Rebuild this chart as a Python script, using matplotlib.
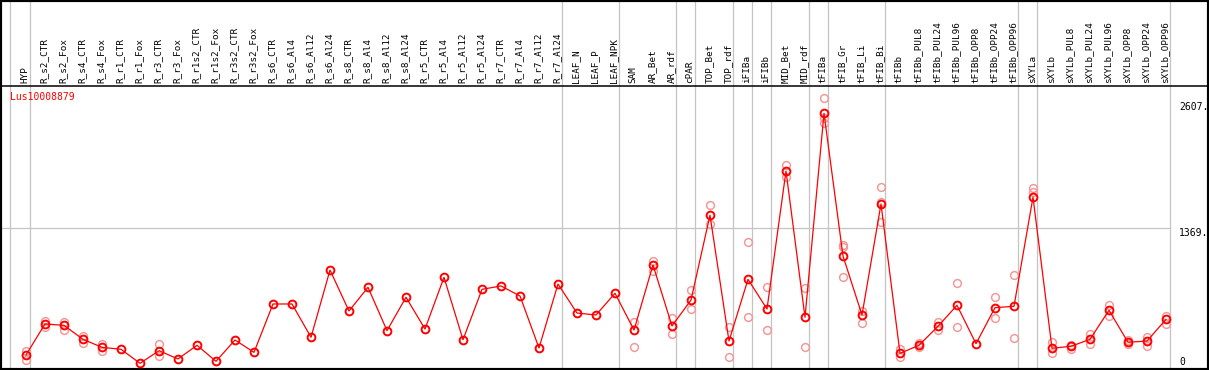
import matplotlib
matplotlib.use("Agg")
import matplotlib.pyplot as plt

# categories (columns of the chart)
categories = [
    "HYP", "R_s2_CTR", "R_s2_Fox", "R_s4_CTR", "R_s4_Fox", "R_r1_CTR", "R_r1_Fox",
    "R_r3_CTR", "R_r3_Fox", "R_r1s2_CTR", "R_r1s2_Fox", "R_r3s2_CTR", "R_r3s2_Fox",
    "R_s6_CTR", "R_s6_Al4", "R_s6_Al12", "R_s6_Al24", "R_s8_CTR", "R_s8_Al4",
    "R_s8_Al12", "R_s8_Al24", "R_r5_CTR", "R_r5_Al4", "R_r5_Al12", "R_r5_Al24",
    "R_r7_CTR", "R_r7_Al4", "R_r7_Al12", "R_r7_Al24", "LEAF_N", "LEAF_P", "LEAF_NPK",
    "SAM", "AR_Bet", "AR_rdf", "cPAR", "TOP_Bet", "TOP_rdf", "iFIBa", "iFIBb",
    "MID_Bet", "MID_rdf", "tFIBa", "tFIB_Gr", "tFIB_Li", "tFIB_Bi", "tFIBb",
    "tFIBb_PUL8", "tFIBb_PUL24", "tFIBb_PUL96", "tFIBb_OPP8", "tFIBb_OPP24",
    "tFIBb_OPP96", "sXYLa", "sXYLb", "sXYLb_PUL8", "sXYLb_PUL24", "sXYLb_PUL96",
    "sXYLb_OPP8", "sXYLb_OPP24", "sXYLb_OPP96",
]

# mean expression per category
means = [
    121, 426, 412, 275, 196, 177, 39, 163, 82, 216, 59, 268, 147,
    622, 622, 295, 955, 553, 786, 360, 688, 376, 884, 271, 766,
    799, 700, 190, 818, 533, 514, 727, 366, 1005, 406, 661,
    1494, 258, 864, 573, 1928, 491, 2495, 1093, 514, 1604, 137,
    216, 403, 609, 232, 586, 599, 1671, 187, 206, 275, 560,
    246, 258, 471,
]

# individual replicates (empty where they sit under the mean)
replicates = {
    "HYP": [160, 72], "R_s2_CTR": [458, 393], "R_s2_Fox": [448, 366],
    "R_s4_CTR": [307, 236], "R_s4_Fox": [229, 163], "R_r3_CTR": [229, 111],
    "SAM": [448, 202], "AR_Bet": [1047, 949], "AR_rdf": [481, 324],
    "cPAR": [759, 570], "TOP_Bet": [1591, 1408], "TOP_rdf": [399, 98],
    "iFIBa": [1226, 491], "iFIBb": [786, 366], "MID_Bet": [1987, 1872],
    "MID_rdf": [776, 202], "tFIBa": [2645, 2446, 2397], "tFIB_Gr": [1201, 1179, 887],
    "tFIB_Li": [553, 432], "tFIB_Bi": [1768, 1627, 1430], "tFIBb": [177, 98],
    "tFIBb_PUL8": [242, 202], "tFIBb_PUL24": [448, 366], "tFIBb_PUL96": [825, 393],
    "tFIBb_OPP24": [688, 487], "tFIBb_OPP96": [907, 288], "sXYLa": [1760, 1720],
    "sXYLb": [252, 137], "sXYLb_PUL8": [219, 177], "sXYLb_PUL24": [327, 226],
    "sXYLb_PUL96": [612, 507], "sXYLb_OPP8": [265, 230], "sXYLb_OPP24": [298, 209],
    "sXYLb_OPP96": [507, 428],
}

# last category of each group (group separators)
group_ends = ["HYP", "R_r7_Al24", "LEAF_NPK", "AR_rdf", "cPAR", "TOP_rdf", "iFIBa",
              "iFIBb", "MID_rdf", "tFIBa", "tFIB_Bi", "tFIBb_OPP96", "sXYLa", "sXYLb_OPP96"]

gene = "Lus10008879"
tick_values = [2607, 1369, 0]
tick_labels = ["2607.", "1369.", "0"]
half_line = 1369

W, H = 1209, 370
Y0, S = 367.3, 0.1018   # pixel layout of the value scale


def vy(px):
    return (Y0 - px) / S


def ix(px):
    return (px - 26) / 19


fig = plt.figure(figsize=(W / 100, H / 100), dpi=100)
ax = fig.add_axes([0, 0, 1, 1])
ax.set_xlim(ix(0), ix(W))
ax.set_ylim(vy(H), vy(0))
ax.set_xticks([])
ax.set_yticks([])
for sp in ax.spines.values():
    sp.set_linewidth(3)
    sp.set_color("black")

mono = "DejaVu Sans Mono"
gray = "#c4c4c4"

# group separators
ax.axvline(ix(10), color=gray, lw=0.9, zorder=1)
for name in group_ends:
    ax.axvline(categories.index(name) + 4 / 19, color=gray, lw=0.9, zorder=1)

# half-scale line
ax.axhline(half_line, xmin=0, xmax=1170 / W, color=gray, lw=0.9, zorder=1)

# header separator
ax.axhline(vy(85.5), color="black", lw=1.1, zorder=2)

# column labels
for i, name in enumerate(categories):
    ax.text(i - 0.05, vy(83), name, rotation=90, ha="center", va="bottom",
            family=mono, fontsize=6.7, color="black")

# replicates
for name, reps in replicates.items():
    i = categories.index(name)
    ax.plot([i] * len(reps), reps, "o", ms=5.6, mfc="none", mec="#f29a9a",
            mew=1.1, zorder=2, clip_on=False)

# means
ax.plot(range(len(categories)), means, color="red", lw=0.9, marker="o", ms=5.6,
        mfc="none", mec="red", mew=1.4, zorder=3)

ax.text(ix(10), vy(97), gene, ha="left", va="center", family=mono,
        fontsize=7, color="red")

for v, lab in zip(tick_values, tick_labels):
    ax.text(ix(1179), v if v else vy(367), lab, ha="left",
            va="top" if v else "bottom", family=mono, fontsize=7, color="black")

fig.savefig("out.png", dpi=100)
